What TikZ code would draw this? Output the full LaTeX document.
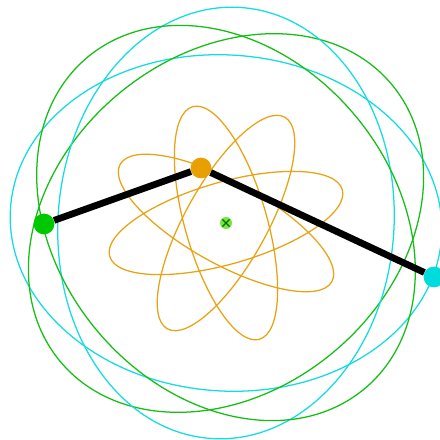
\documentclass[tikz,border=0pt]{standalone}
\usetikzlibrary{shapes.misc}

\definecolor{orbitorange}{RGB}{232,163,20}
\definecolor{orbitcyan}{RGB}{20,220,225}
\definecolor{orbitgreen}{RGB}{20,190,20}
\definecolor{dotgreen}{RGB}{0,200,0}
\definecolor{dotorange}{RGB}{232,160,0}
\definecolor{dotcyan}{RGB}{0,220,220}
\definecolor{hubfill}{RGB}{120,230,60}
\definecolor{hubmark}{RGB}{0,110,0}

\begin{document}
\begin{tikzpicture}[
        x = 0.25mm, y = 0.25mm,
        orbit/.style = {line width = 0.9pt},
        dot/.style = {circle, inner sep = 0pt, minimum size = 5.2mm},
        link/.style = {line width = 4.8pt, draw = black},
        hub/.style = {circle, fill = hubfill, inner sep = 0pt, minimum size = 3mm},
        hubx/.style = {cross out, draw = hubmark, thick, inner sep = 0pt, minimum size = 1.5mm}
    ]

    \useasboundingbox (-226,-217) rectangle (214,223);

    % big orbits
    \foreach \a/\c in {-4/orbitcyan, 40/orbitgreen, 86/orbitcyan, 130/orbitgreen}
        \draw[orbit, draw = \c, rotate = \a] (0,0) ellipse [x radius = 216, y radius = 168];

    % small orbits
    \foreach \a in {16, 61, 106, 151}
        \draw[orbit, draw = orbitorange, rotate = \a] (0,0) ellipse [x radius = 121, y radius = 41];

    \node[hub] (hub) at (0,0) {};
    \node[hubx] (hubcross) at (hub) {};

    \node[dot, fill = dotgreen] (green) at (-182,-1) {};
    \node[dot, fill = dotorange] (orange) at (-25,55) {};
    \node[dot, fill = dotcyan] (cyan) at (208,-54) {};

    \draw[link] (green) -- (orange) -- (cyan);

\end{tikzpicture}
\end{document}
